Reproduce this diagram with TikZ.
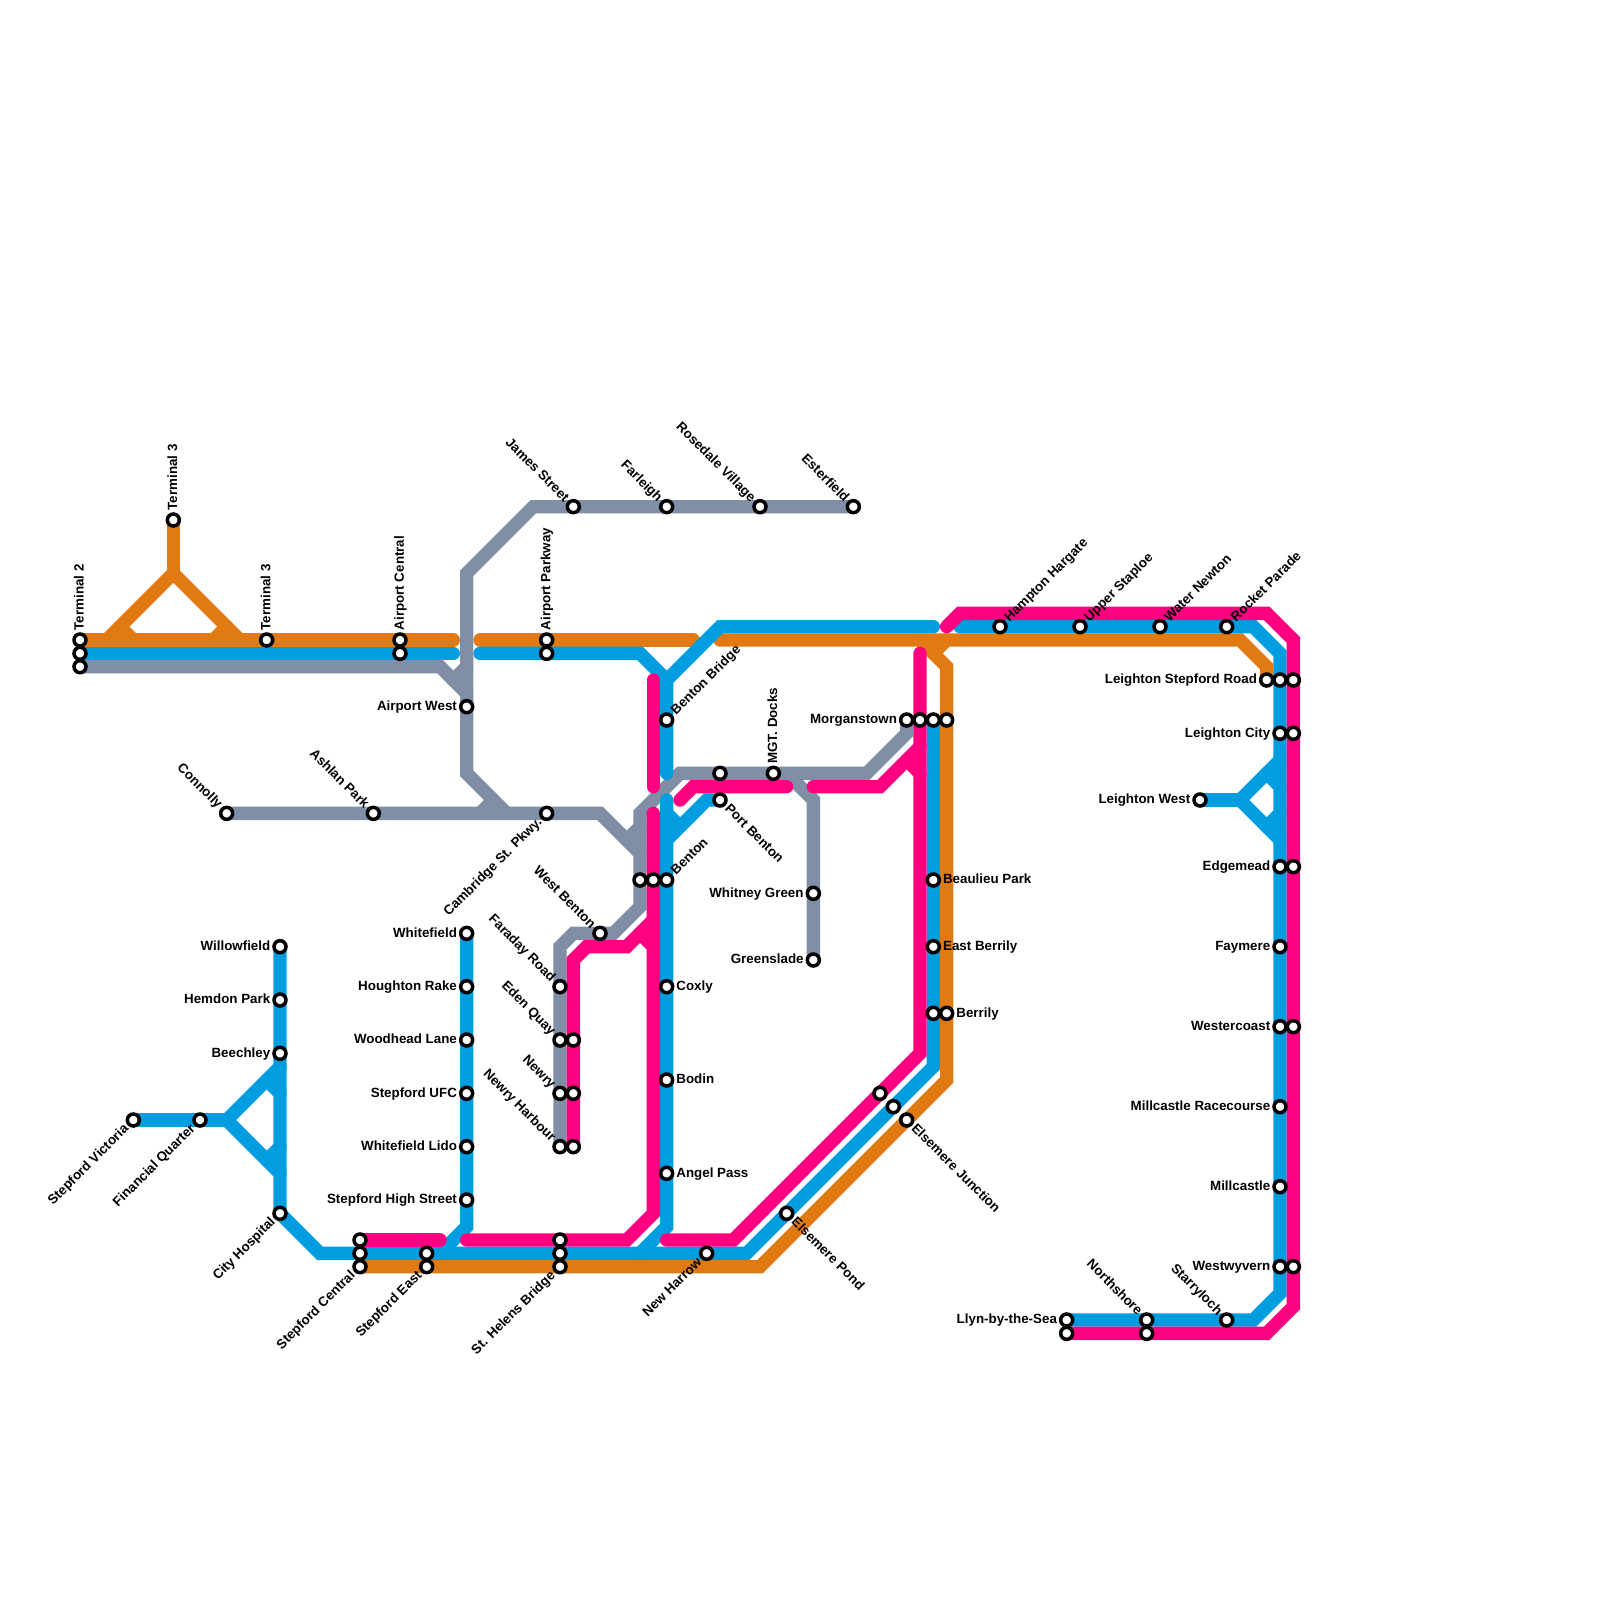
\documentclass[tikz,border=0pt]{standalone}
\usepackage{fontspec}
\setmainfont{Liberation Sans}
\usepackage{xcolor}
\usetikzlibrary{positioning, backgrounds}
\definecolor{lineorange}{RGB}{226, 122, 20}
\definecolor{lineblue}{RGB}{0, 158, 224}
\definecolor{linepink}{RGB}{255, 0, 128}
\definecolor{linegrey}{RGB}{128, 143, 166}

\begin{document}
\begin{tikzpicture}[
    x=0.4cm, y=-0.4cm,
    stn/.style={circle, draw=black, fill=white, line width=3pt, minimum size=0.36cm, inner sep=0pt},
    lbl/.style={font=\bfseries\fontsize{11.4}{13}\selectfont, inner xsep=1.5pt, inner ysep=0pt, text height=8.5pt, text depth=2.1pt, text=black},
    lblup/.style={lbl, rotate=90, anchor=west},
    lblne/.style={lbl, rotate=45, anchor=west},
    lblsw/.style={lbl, rotate=45, anchor=east},
    lblnw/.style={lbl, rotate=-45, anchor=east},
    lblse/.style={lbl, rotate=-45, anchor=west},
    route/.style={line width=0.4cm, line cap=round, line join=miter},
    orangeline/.style={route, draw=lineorange},
    blueline/.style={route, draw=lineblue},
    pinkline/.style={route, draw=linepink},
    greyline/.style={route, draw=linegrey}
]
    \useasboundingbox (0,0) rectangle (120,120);

    \node[stn] (term2) at (6,48) {};
    \node[stn] (term2b) at (6,49) {};
    \node[stn] (term2g) at (6,50) {};
    \node[lblup] (term2txt) at (term2.north) {Terminal 2};
    \node[stn] (term3a) at (13,39) {};
    \node[lblup] (term3atxt) at (term3a.north) {Terminal 3};
    \node[stn] (term3b) at (20,48) {};
    \node[lblup] (term3btxt) at (term3b.north) {Terminal 3};
    \node[stn] (aircen) at (30,48) {};
    \node[stn] (aircenb) at (30,49) {};
    \node[lblup] (aircentxt) at (aircen.north) {Airport Central};
    \node[stn] (airwest) at (35,53) {};
    \node[lbl, left=0pt of airwest] (airwesttxt) {Airport West};
    \node[stn] (airpark) at (41,48) {};
    \node[stn] (airparkb) at (41,49) {};
    \node[lblup] (airparktxt) at (airpark.north) {Airport Parkway};

    \node[stn] (james) at (43,38) {};
    \node[lblnw] (jamestxt) at (james.north west) {James Street};
    \node[stn] (farleigh) at (50,38) {};
    \node[lblnw] (farleightxt) at (farleigh.north west) {Farleigh};
    \node[stn] (rosedale) at (57,38) {};
    \node[lblnw] (rosedaletxt) at (rosedale.north west) {Rosedale Village};
    \node[stn] (ester) at (64,38) {};
    \node[lblnw] (estertxt) at (ester.north west) {Esterfield};

    \node[stn] (connolly) at (17,61) {};
    \node[lblnw] (connollytxt) at (connolly.north west) {Connolly};
    \node[stn] (ashlan) at (28,61) {};
    \node[lblnw] (ashlantxt) at (ashlan.north west) {Ashlan Park};
    \node[stn] (cambridge) at (41,61) {};
    \node[lblsw] (cambridgetxt) at (cambridge.south west) {Cambridge St. Pkwy.};

    \node[stn] (bentonbr) at (50,54) {};
    \node[lblne] (bentonbrtxt) at (bentonbr.north east) {Benton Bridge};
    \node[stn] (mgtb) at (54,58) {};
    \node[stn] (mgt) at (58,58) {};
    \node[lblup] (mgttxt) at (mgt.north) {MGT. Docks};
    \node[stn] (portb) at (54,60) {};
    \node[lblse] (portbtxt) at (portb.south east) {Port Benton};
    \node[stn] (bentong) at (48,66) {};
    \node[stn] (bentonp) at (49,66) {};
    \node[stn] (benton) at (50,66) {};
    \node[lblne] (bentontxt) at (benton.north east) {Benton};
    \node[stn] (wbenton) at (45,70) {};
    \node[lblnw] (wbentontxt) at (wbenton.north west) {West Benton};
    \node[stn] (faraday) at (42,74) {};
    \node[lblnw] (faradaytxt) at (faraday.north west) {Faraday Road};
    \node[stn] (eden) at (42,78) {};
    \node[stn] (edenp) at (43,78) {};
    \node[lblnw] (edentxt) at (eden.north west) {Eden Quay};
    \node[stn] (newry) at (42,82) {};
    \node[stn] (newryp) at (43,82) {};
    \node[lblnw] (newrytxt) at (newry.north west) {Newry};
    \node[stn] (newryh) at (42,86) {};
    \node[stn] (newryhp) at (43,86) {};
    \node[lblnw] (newryhtxt) at (newryh.north west) {Newry Harbour};

    \node[stn] (whitef) at (35,70) {};
    \node[lbl, left=0pt of whitef] (whiteftxt) {Whitefield};
    \node[stn] (houghton) at (35,74) {};
    \node[lbl, left=0pt of houghton] (houghtontxt) {Houghton Rake};
    \node[stn] (woodhead) at (35,78) {};
    \node[lbl, left=0pt of woodhead] (woodheadtxt) {Woodhead Lane};
    \node[stn] (ufc) at (35,82) {};
    \node[lbl, left=0pt of ufc] (ufctxt) {Stepford UFC};
    \node[stn] (lido) at (35,86) {};
    \node[lbl, left=0pt of lido] (lidotxt) {Whitefield Lido};
    \node[stn] (high) at (35,90) {};
    \node[lbl, left=0pt of high] (hightxt) {Stepford High Street};

    \node[stn] (willow) at (21,71) {};
    \node[lbl, left=0pt of willow] (willowtxt) {Willowfield};
    \node[stn] (hemdon) at (21,75) {};
    \node[lbl, left=0pt of hemdon] (hemdontxt) {Hemdon Park};
    \node[stn] (beech) at (21,79) {};
    \node[lbl, left=0pt of beech] (beechtxt) {Beechley};
    \node[stn] (cityh) at (21,91) {};
    \node[lblsw] (cityhtxt) at (cityh.south west) {City Hospital};
    \node[stn] (victoria) at (10,84) {};
    \node[lblsw] (victoriatxt) at (victoria.south west) {Stepford Victoria};
    \node[stn] (fquarter) at (15,84) {};
    \node[lblsw] (fquartertxt) at (fquarter.south west) {Financial Quarter};

    \node[stn] (scenp) at (27,93) {};
    \node[stn] (scenb) at (27,94) {};
    \node[stn] (scen) at (27,95) {};
    \node[lblsw] (scentxt) at (scen.south west) {Stepford Central};
    \node[stn] (seastb) at (32,94) {};
    \node[stn] (seast) at (32,95) {};
    \node[lblsw] (seasttxt) at (seast.south west) {Stepford East};
    \node[stn] (helensp) at (42,93) {};
    \node[stn] (helensb) at (42,94) {};
    \node[stn] (helens) at (42,95) {};
    \node[lblsw] (helenstxt) at (helens.south west) {St. Helens Bridge};
    \node[stn] (harrow) at (53,94) {};
    \node[lblsw] (harrowtxt) at (harrow.south west) {New Harrow};

    \node[stn] (coxly) at (50,74) {};
    \node[lbl, right=0pt of coxly] (coxlytxt) {Coxly};
    \node[stn] (bodin) at (50,81) {};
    \node[lbl, right=0pt of bodin] (bodintxt) {Bodin};
    \node[stn] (angel) at (50,88) {};
    \node[lbl, right=0pt of angel] (angeltxt) {Angel Pass};
    \node[stn] (pond) at (59,91) {};
    \node[lblse] (pondtxt) at (pond.south east) {Elsemere Pond};
    \node[stn] (elsep) at (66,82) {};
    \node[stn] (elseb) at (67,83) {};
    \node[stn] (else) at (68,84) {};
    \node[lblse] (elsetxt) at (else.south east) {Elsemere Junction};

    \node[stn] (morgan) at (68,54) {};
    \node[stn] (morganp) at (69,54) {};
    \node[stn] (morganb) at (70,54) {};
    \node[stn] (morgano) at (71,54) {};
    \node[lbl, left=0pt of morgan] (morgantxt) {Morganstown};
    \node[stn] (beaulieu) at (70,66) {};
    \node[lbl, right=0pt of beaulieu] (beaulieutxt) {Beaulieu Park};
    \node[stn] (eberrily) at (70,71) {};
    \node[lbl, right=0pt of eberrily] (eberrilytxt) {East Berrily};
    \node[stn] (berrilyb) at (70,76) {};
    \node[stn] (berrily) at (71,76) {};
    \node[lbl, right=0pt of berrily] (berrilytxt) {Berrily};
    \node[stn] (whitney) at (61,67) {};
    \node[lbl, left=0pt of whitney] (whitneytxt) {Whitney Green};
    \node[stn] (green) at (61,72) {};
    \node[lbl, left=0pt of green] (greentxt) {Greenslade};

    \node[stn] (hampton) at (75,47) {};
    \node[lblne] (hamptontxt) at (hampton.north east) {Hampton Hargate};
    \node[stn] (staploe) at (81,47) {};
    \node[lblne] (staploetxt) at (staploe.north east) {Upper Staploe};
    \node[stn] (water) at (87,47) {};
    \node[lblne] (watertxt) at (water.north east) {Water Newton};
    \node[stn] (rocket) at (92,47) {};
    \node[lblne] (rockettxt) at (rocket.north east) {Rocket Parade};

    \node[stn] (lstep) at (95,51) {};
    \node[stn] (lstepb) at (96,51) {};
    \node[stn] (lstepp) at (97,51) {};
    \node[lbl, left=0pt of lstep] (lsteptxt) {Leighton Stepford Road};
    \node[stn] (lcity) at (96,55) {};
    \node[stn] (lcityp) at (97,55) {};
    \node[lbl, left=0pt of lcity] (lcitytxt) {Leighton City};
    \node[stn] (lwest) at (90,60) {};
    \node[lbl, left=0pt of lwest] (lwesttxt) {Leighton West};
    \node[stn] (edge) at (96,65) {};
    \node[stn] (edgep) at (97,65) {};
    \node[lbl, left=0pt of edge] (edgetxt) {Edgemead};
    \node[stn] (faymere) at (96,71) {};
    \node[lbl, left=0pt of faymere] (faymeretxt) {Faymere};
    \node[stn] (wcoast) at (96,77) {};
    \node[stn] (wcoastp) at (97,77) {};
    \node[lbl, left=0pt of wcoast] (wcoasttxt) {Westercoast};
    \node[stn] (racecourse) at (96,83) {};
    \node[lbl, left=0pt of racecourse] (racecoursetxt) {Millcastle Racecourse};
    \node[stn] (millc) at (96,89) {};
    \node[lbl, left=0pt of millc] (millctxt) {Millcastle};
    \node[stn] (wwyv) at (96,95) {};
    \node[stn] (wwyvp) at (97,95) {};
    \node[lbl, left=0pt of wwyv] (wwyvtxt) {Westwyvern};
    \node[stn] (llyn) at (80,99) {};
    \node[stn] (llynp) at (80,100) {};
    \node[lbl, left=0pt of llyn] (llyntxt) {Llyn-by-the-Sea};
    \node[stn] (north) at (86,99) {};
    \node[stn] (northp) at (86,100) {};
    \node[lblnw] (northtxt) at (north.north west) {Northshore};
    \node[stn] (starry) at (92,99) {};
    \node[lblnw] (starrytxt) at (starry.north west) {Starryloch};

    \coordinate (oa) at (34,48);
    \coordinate (ob) at (36,48);
    \coordinate (oc) at (52,48);
    \coordinate (od) at (54,48);
    \coordinate (oe) at (8,48);
    \coordinate (of) at (18,48);
    \coordinate (og) at (13,43);
    \coordinate (oh) at (69,48);
    \coordinate (ba) at (34,49);
    \coordinate (bb) at (36,49);
    \coordinate (bc) at (50,51);
    \coordinate (bd) at (50,58);
    \coordinate (be) at (70,47);
    \coordinate (bf) at (50,60);
    \coordinate (bg) at (48,94);
    \coordinate (bh) at (72,47);
    \coordinate (bi) at (17,84);
    \coordinate (bj) at (93,60);
    \coordinate (bk) at (33,94);
    \coordinate (bl) at (50,63);
    \coordinate (pa) at (33,93);
    \coordinate (pb) at (35,93);
    \coordinate (pc) at (49,61);
    \coordinate (pd) at (49,51);
    \coordinate (pe) at (49,59);
    \coordinate (pf) at (51,60);
    \coordinate (pg) at (59,59);
    \coordinate (ph) at (61,59);
    \coordinate (pi) at (69,56);
    \coordinate (pj) at (69,49);
    \coordinate (pk) at (50,93);
    \coordinate (pl) at (71,47);
    \coordinate (pm) at (49,69);
    \coordinate (ga) at (35,52);
    \coordinate (gb) at (38,61);
    \coordinate (gc) at (48,64);
    \coordinate (gd) at (48,61);
    \coordinate (ge) at (59,58);

    \begin{scope}[on background layer]
        \draw[greyline] (term2g.center) -- (33,50) -- (ga);
        \draw[greyline] (34,51) -- (35,50);
        \draw[greyline] (ester.center) -- (40,38) -- (35,43) -- (35,58) -- (gb);
        \draw[greyline] (37,60) -- (36,61);
        \draw[greyline] (connolly.center) -- (45,61) -- (gc);
        \draw[greyline] (47,63) -- (48,62);
        \draw[greyline] (morgan.center) -- (68,55) -- (65,58) -- (51,58) -- (gd) -- (48,68) -- (46,70) -- (43,70) -- (42,71) -- (newryh.center);
        \draw[greyline] (ge) -- (61,60) -- (green.center);

        \draw[orangeline] (term2.center) -- (oa);
        \draw[orangeline] (ob) -- (oc);
        \draw[orangeline] (od) -- (93,48) -- (95,50) -- (lstep.center);
        \draw[orangeline] (term3a.center) -- (og);
        \draw[orangeline] (oe) -- (og) -- (of);
        \draw[orangeline] (9,47) -- (10,48);
        \draw[orangeline] (17,47) -- (16,48);
        \draw[orangeline] (oh) -- (71,50) -- (71,81) -- (57,95) -- (scen.center);
        \draw[orangeline] (70,49) -- (71,48);

        \draw[blueline] (term2b.center) -- (ba);
        \draw[blueline] (bb) -- (48,49) -- (bc) -- (bd);
        \draw[blueline] (bc) -- (54,47) -- (be);
        \draw[blueline] (bf) -- (50,92) -- (bg);
        \draw[blueline] (portb.center) -- (53,60) -- (bl);
        \draw[blueline] (51,62) -- (50,61);
        \draw[blueline] (willow.center) -- (cityh.center) -- (24,94) -- (56,94) -- (70,80) -- (morganb.center);
        \draw[blueline] (whitef.center) -- (35,92) -- (bk);
        \draw[blueline] (victoria.center) -- (bi);
        \draw[blueline] (21,80) -- (bi) -- (21,88);
        \draw[blueline] (20,81) -- (21,82);
        \draw[blueline] (20,87) -- (21,86);
        \draw[blueline] (bh) -- (94,47) -- (96,49) -- (96,97) -- (94,99) -- (llyn.center);
        \draw[blueline] (lwest.center) -- (bj);
        \draw[blueline] (96,57) -- (bj) -- (96,63);
        \draw[blueline] (95,58) -- (96,59);
        \draw[blueline] (95,62) -- (96,61);

        \draw[pinkline] (scenp.center) -- (pa);
        \draw[pinkline] (pb) -- (47,93) -- (49,91) -- (pc);
        \draw[pinkline] (pd) -- (pe);
        \draw[pinkline] (newryhp.center) -- (43,72) -- (44,71) -- (47,71) -- (pm);
        \draw[pinkline] (48,70) -- (49,71);
        \draw[pinkline] (pf) -- (52,59) -- (pg);
        \draw[pinkline] (ph) -- (66,59) -- (pi);
        \draw[pinkline] (68,57) -- (69,58);
        \draw[pinkline] (pj) -- (69,79) -- (55,93) -- (pk);
        \draw[pinkline] (pl) -- (72,46) -- (95,46) -- (97,48) -- (97,98) -- (95,100) -- (llynp.center);
    \end{scope}
\end{tikzpicture}
\end{document}
